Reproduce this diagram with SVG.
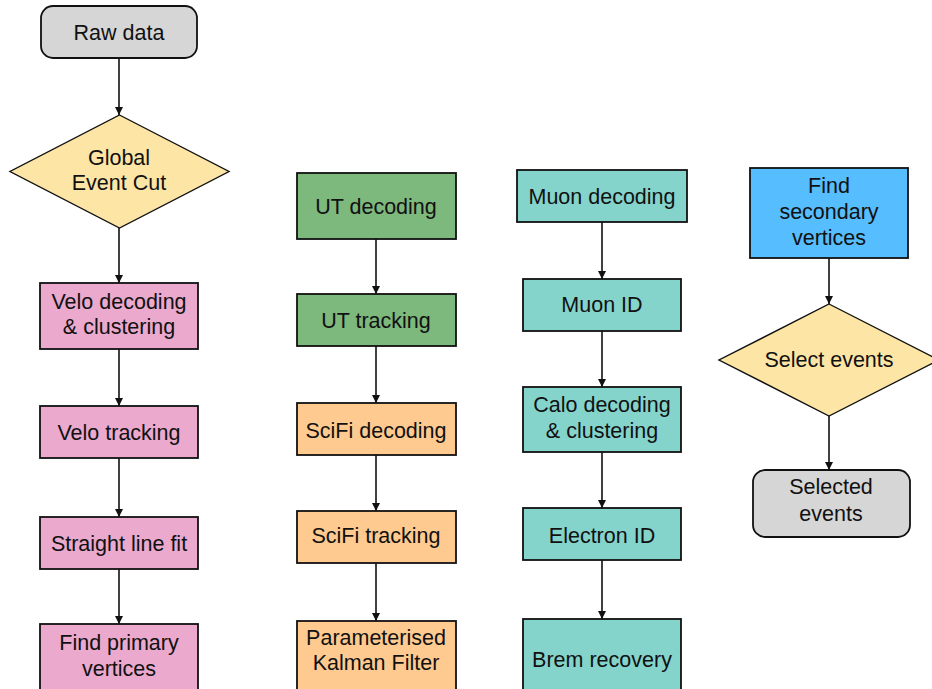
<svg xmlns="http://www.w3.org/2000/svg" width="932" height="689" viewBox="0 0 932 689">
<style>
.n{stroke:#111;stroke-width:1.8}
.d{stroke:#111;stroke-width:1.4}
.t{font-family:"Liberation Sans",Arial,sans-serif;font-size:21.5px;fill:#111;text-anchor:middle}
.c{stroke:#111;stroke-width:1.6;fill:none;marker-end:url(#ah)}
.grey{fill:#d6d6d6}.pink{fill:#eaa9cd}.green{fill:#7db87d}.orange{fill:#ffca8f}.teal{fill:#84d4cc}.yel{fill:#fde5a6}.blue{fill:#56bdff}
</style>
<defs>
<marker id="ah" markerWidth="10" markerHeight="10" refX="9" refY="5" orient="auto" markerUnits="userSpaceOnUse">
<path d="M1,1 L9,5 L1,9 Z" fill="#111"/>
</marker>
</defs>
<rect width="932" height="689" fill="#fff"/>
<g id="connectors">
<line class="c" x1="119" y1="58" x2="119" y2="115"/>
<line class="c" x1="119" y1="228" x2="119" y2="283"/>
<line class="c" x1="119" y1="349" x2="119" y2="406"/>
<line class="c" x1="119" y1="458" x2="119" y2="517"/>
<line class="c" x1="119" y1="569" x2="119" y2="624"/>
<line class="c" x1="376" y1="239" x2="376" y2="294"/>
<line class="c" x1="376" y1="346" x2="376" y2="403"/>
<line class="c" x1="376" y1="455" x2="376" y2="511"/>
<line class="c" x1="376" y1="563" x2="376" y2="621"/>
<line class="c" x1="602" y1="222" x2="602" y2="279"/>
<line class="c" x1="602" y1="331" x2="602" y2="387"/>
<line class="c" x1="602" y1="452" x2="602" y2="508"/>
<line class="c" x1="602" y1="560" x2="602" y2="619"/>
<line class="c" x1="829" y1="258" x2="829" y2="304"/>
<line class="c" x1="829" y1="416" x2="829" y2="470"/>
</g>
<g id="raw-data"><rect class="n grey" x="41" y="6" width="156" height="52" rx="12"/><text class="t" x="119" y="40">Raw data</text></g>
<g id="global-event-cut"><polygon class="d yel" points="119.5,115 229,171.5 119.5,228 10,171.5"/><text class="t" x="119" y="165">Global</text><text class="t" x="119" y="190">Event Cut</text></g>
<g id="velo-decoding"><rect class="n pink" x="40" y="283" width="158" height="66"/><text class="t" x="119" y="309">Velo decoding</text><text class="t" x="119" y="334">&amp; clustering</text></g>
<g id="velo-tracking"><rect class="n pink" x="40" y="406" width="158" height="52"/><text class="t" x="119" y="440">Velo tracking</text></g>
<g id="straight-line-fit"><rect class="n pink" x="40" y="517" width="158" height="52"/><text class="t" x="119" y="551">Straight line fit</text></g>
<g id="find-primary-vertices"><rect class="n pink" x="40" y="624" width="158" height="68"/><text class="t" x="119" y="650">Find primary</text><text class="t" x="119" y="676">vertices</text></g>
<g id="ut-decoding"><rect class="n green" x="297" y="173" width="159" height="66"/><text class="t" x="376" y="214">UT decoding</text></g>
<g id="ut-tracking"><rect class="n green" x="297" y="294" width="159" height="52"/><text class="t" x="376" y="328">UT tracking</text></g>
<g id="scifi-decoding"><rect class="n orange" x="297" y="403" width="159" height="52"/><text class="t" x="376" y="438">SciFi decoding</text></g>
<g id="scifi-tracking"><rect class="n orange" x="297" y="511" width="159" height="52"/><text class="t" x="376" y="543">SciFi tracking</text></g>
<g id="kalman-filter"><rect class="n orange" x="297" y="621" width="159" height="70"/><text class="t" x="376" y="645">Parameterised</text><text class="t" x="376" y="670">Kalman Filter</text></g>
<g id="muon-decoding"><rect class="n teal" x="517" y="170" width="170" height="52"/><text class="t" x="602" y="204">Muon decoding</text></g>
<g id="muon-id"><rect class="n teal" x="523" y="279" width="158" height="52"/><text class="t" x="602" y="312">Muon ID</text></g>
<g id="calo-decoding"><rect class="n teal" x="523" y="387" width="158" height="65"/><text class="t" x="602" y="412">Calo decoding</text><text class="t" x="602" y="438">&amp; clustering</text></g>
<g id="electron-id"><rect class="n teal" x="523" y="508" width="158" height="52"/><text class="t" x="602" y="543">Electron ID</text></g>
<g id="brem-recovery"><rect class="n teal" x="523" y="619" width="158" height="72"/><text class="t" x="602" y="667">Brem recovery</text></g>
<g id="find-secondary-vertices"><rect class="n blue" x="750" y="168" width="158" height="90"/><text class="t" x="829" y="193">Find</text><text class="t" x="829" y="219">secondary</text><text class="t" x="829" y="245">vertices</text></g>
<g id="select-events"><polygon class="d yel" points="829,304 939,360 829,416 719,360"/><text class="t" x="829" y="367">Select events</text></g>
<g id="selected-events"><rect class="n grey" x="753" y="470" width="157" height="67" rx="12"/><text class="t" x="831" y="494">Selected</text><text class="t" x="831" y="521">events</text></g>
</svg>
